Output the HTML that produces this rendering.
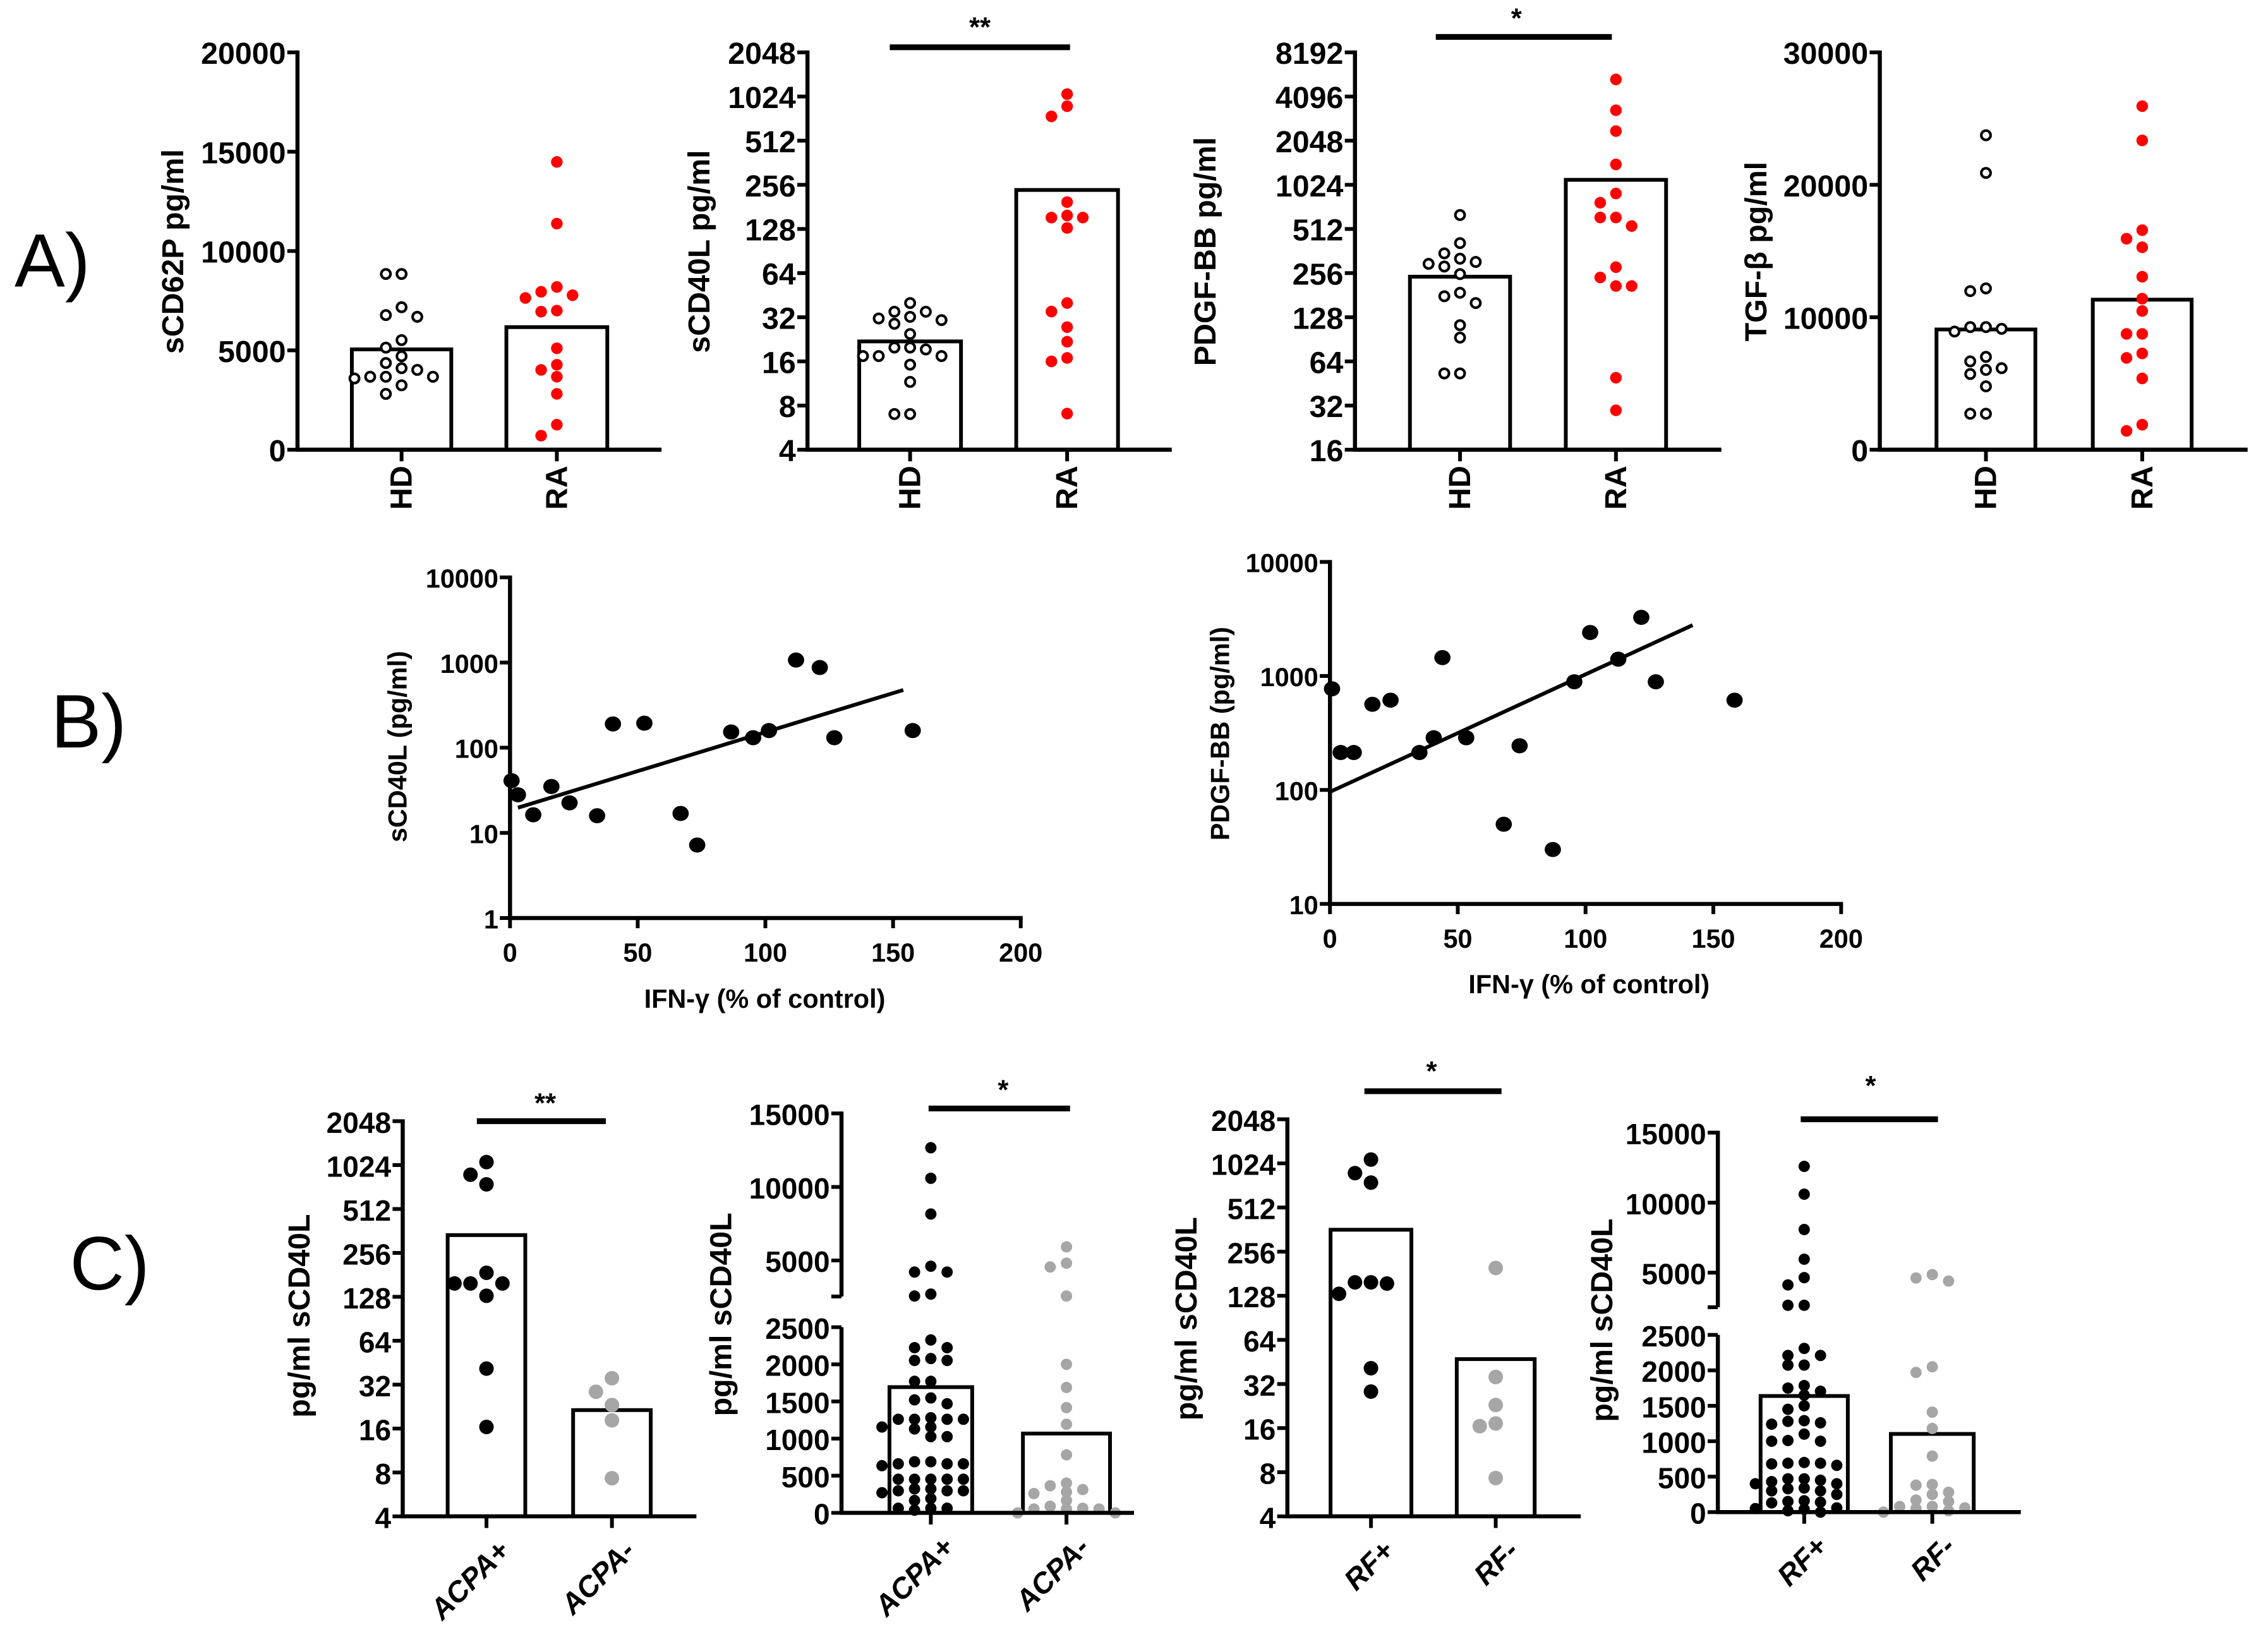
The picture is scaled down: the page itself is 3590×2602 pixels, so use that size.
<!DOCTYPE html>
<html><head><meta charset="utf-8"><style>
html,body{margin:0;padding:0;background:#fff}
svg{display:block}
text{font-family:"Liberation Sans",Arial,sans-serif}
</style></head><body>
<svg id="fig" xmlns="http://www.w3.org/2000/svg" width="3590" height="2602" viewBox="0 0 1560 1130.7">
<rect width="1560" height="1131" fill="#fff"/>
<text x="10" y="197" font-size="52">A)</text>
<text x="35" y="514" font-size="52">B)</text>
<text x="48" y="887" font-size="52">C)</text>
</svg>
<script>
// ---------- DATA ----------
const a1HD=[8845,8845,7172,6690,6776,5517,5138,4707,4362,4103,4017,3672,3672,3586,3672,3241,2810];
const a1RA=[14483,11379,8190,7948,7638,7776,7000,6948,5103,4276,4017,3672,2810,1259,707];
const a1Bars=[5050,6170];
const a2HD=[40,31.4,34.9,34.9,32.2,30.6,28.9,24.6,19.3,19.9,19.9,17.4,17.4,17.4,15.2,11.6,7.0,7.0];
const a2RA=[1063,879,749,195,158,153,153,130,40,35,27.4,21.8,16.9,16,7.05];
const a2Bars=[21.9,236];
const a3HD=[637,321,284,410,349,305,296,252,188,178,160,113,93,53,53];
const a3RA=[5352,3299,2378,1410,893,773,613,613,536,281,239,209,209,49.5,29.7];
const a3Bars=[242,1107];
const a4HD=[23740,20895,11973,12180,9258,9128,9258,8921,6672,7008,6025,6155,5715,4784,2715,2715];
const a4RA=[25937,23352,16576,15930,15283,13059,11404,10473,8741,8741,7267,6930,5379,1888,1422];
const a4Bars=[9077,11327];
const catsA=["HD","RA"];
const ticksA1=[0,5000,10000,15000,20000];
const ticksA2=[4,8,16,32,64,128,256,512,1024,2048];
const ticksA3=[16,32,64,128,256,512,1024,2048,4096,8192];
const ticksA4=[0,10000,20000,30000];

const b1X=[0.6,3.1,9.1,16.2,23.3,34.1,40.3,52.6,66.8,73.3,86.6,95.2,101.4,112,121.3,127,157.7];
const b1Y=[41,28,16.3,35,22.5,15.9,190,194,16.9,7.2,153,131,159,1070,874,131,159];
const b1Fit=[1.267,0.00916,3.1,154];
const b2X=[0.8,4.2,9.3,16.6,23.7,35,40.6,44,53.3,68,74.2,87.2,95.6,101.8,112.8,121.8,127.5,158.3];
const b2Y=[771,213,213,564,613,213,287,1449,287,50,244,30,889,2404,1403,3266,889,613];
const b2Fit=[1.983,0.01031,0,141.9];
const ticksBx=[0,50,100,150,200];
const ticksB1y=[1,10,100,1000,10000];
const ticksB2y=[10,100,1000,10000];

const c1Pos=[1073,755,879,158,187,158,158,130,41.2,16.4];
const c1Neg=[35.4,28.6,23.2,18.2,7.3];
const c1Bars=[339,21.4];
const c2Pos=[12668,10589,8158,4605,4211,4211,2711,2580,2328,2224,2224,2078,2052,2052,1771,1771,1547,1521,1469,1260,1260,1260,1280,1260,1156,1130,1156,1026,1026,688,635,660,660,660,688,453,453,453,453,453,271,323,323,297,297,297,167,193,36,62,62,62];
const c2Neg=[5921,4816,4553,2579,2000,1688,1417,1193,781,365,313,401,281,260,89,52,62,52,167,0,0,52];
const c2Bars=[1693,1068];
const c3Pos=[1088,879,757,158,158,155,132,41,28.4];
const c3Neg=[198,35.7,23,16.5,17.2,7.3];
const c3Bars=[361,47.3];
const c4Pos=[12589,10603,8082,5959,4644,4123,2671,2671,2309,2210,2210,2074,2074,1785,1705,1750,1650,1500,1450,1290,1280,1260,1240,1100,1000,1010,1000,700,680,690,690,660,470,450,430,470,400,400,340,330,300,300,250,140,150,160,130,60,50,40,20,0];
const c4Neg=[4863,4620,4400,2050,1970,1410,1180,790,390,380,250,280,150,170,80,80,60,50,20,0];
const c4Bars=[1638,1103];
const catsACPA=["ACPA+","ACPA-"];
const catsRF=["RF+","RF-"];
const ticksClog=[4,8,16,32,64,128,256,512,1024,2048];
const ticksCtop=[5000,10000,15000];
const ticksCbot=[0,500,1000,1500,2000,2500];

// ---------- HELPERS ----------
const NS="http://www.w3.org/2000/svg";
const svg=document.getElementById('fig');
function el(tag,attrs,parent,txt){const e=document.createElementNS(NS,tag);for(const k in attrs)e.setAttribute(k,attrs[k]);if(txt!==undefined)e.textContent=txt;(parent||svg).appendChild(e);return e;}
function lin(d0,d1,r0,r1){return v=>r0+(v-d0)/(d1-d0)*(r1-r0);}
function logs(base,d0,d1,r0,r1){const l=x=>Math.log(x)/Math.log(base);return v=>r0+(l(v)-l(d0))/(l(d1)-l(d0))*(r1-r0);}
function brk(y0,y2500,yBreak,y5000,y15000){const bot=lin(0,2500,y0,y2500),top=lin(5000,15000,y5000,y15000);return v=>v>=2540?top(v):bot(v);}
function fmt(v){return String(v);}
function swarm(vals,sc,cx,step,thr,maxK){const pts=vals.map(v=>({v,y:sc(v)})).sort((a,b)=>a.y-b.y);const placed=[];
 const order=[0];for(let k=1;k<=maxK;k++){order.push(-k,k);}
 pts.forEach(p=>{let best=null,bestD=-1;for(const k of order){let md=1e9;placed.forEach(q=>{if(q.k===k)md=Math.min(md,Math.abs(q.y-p.y));});
  if(md>=thr){best=k;break;}if(md>bestD){bestD=md;best=k;}}
  p.k=best;placed.push(p);p.x=cx+p.k*step;});return pts;}

function yAxis(g,ax,ticks,sc,fs,tl){ticks.forEach(t=>{const y=sc(t);
 const tk=el('line',{x1:ax-tl,x2:ax,y1:y,y2:y,stroke:'#000','stroke-width':2.6},g);
 
 const lb=el('text',{x:ax-tl-1,y:y+1,'font-size':fs,'font-weight':'bold','text-anchor':'end','dominant-baseline':'central'},g,fmt(t));
 });}

function yTitle(g,x,y,txt,fs,name){const t=el('text',{x:0,y:0,transform:`translate(${x},${y}) rotate(-90)`,'font-size':fs,'font-weight':'bold','text-anchor':'middle','dominant-baseline':'central'},g,txt);
 }

function sig(g,x1,x2,y,sx,sy,star){const l=el('line',{x1,x2,y1:y,y2:y,stroke:'#000','stroke-width':4},g);
 
 const s=el('text',{x:sx,y:sy+6,'font-size':19,'font-weight':'bold','text-anchor':'middle'},g,star);
 }

function bars(g,groups,sc,y0,sw){groups.forEach(gr=>{const yt=sc(gr.bar);
 const b=el('rect',{x:gr.l,y:yt,width:gr.r-gr.l,height:y0-yt,fill:'#fff',stroke:'#000','stroke-width':sw},g);
 });}

function dots(g,groups,sc,r,step,thr,maxK){groups.forEach(gr=>{const cx=(gr.l+gr.r)/2;swarm(gr.vals,sc,cx,step,thr,maxK).forEach(p=>{
 const c=gr.open?el('circle',{cx:p.x,cy:p.y,r:r-0.8,fill:'#fff',stroke:gr.color,'stroke-width':1.8},g):el('circle',{cx:p.x,cy:p.y,r:r,fill:gr.color},g);
 });});}

function xAxisCats(g,ax,xEnd,y0,groups,rot45,fs){const l=el('line',{x1:ax-1.3,x2:xEnd,y1:y0,y2:y0,stroke:'#000','stroke-width':2.8},g);
 
 groups.forEach(gr=>{const cx=(gr.l+gr.r)/2;const tk=el('line',{x1:cx,x2:cx,y1:y0,y2:y0+8,stroke:'#000','stroke-width':2.6},g);
 
 let t;if(rot45){t=el('text',{x:0,y:0,transform:`translate(${cx+12},${y0+20}) rotate(-45)`,'font-size':fs,'font-weight':'bold','font-style':'italic','text-anchor':'end','dominant-baseline':'central'},g,gr.name);}
 else{t=el('text',{x:0,y:0,transform:`translate(${cx},${y0+11}) rotate(-90)`,'font-size':fs,'font-weight':'bold','text-anchor':'end','dominant-baseline':'central'},g,gr.name);}
 });}

function vline(g,x,y1,y2,name){const l=el('line',{x1:x,x2:x,y1,y2,stroke:'#000','stroke-width':2.8},g);}

function barPanel(o){const g=el('g',{},svg);
 const y0=o.y0;vline(g,o.ax,o.yTop-1.3,y0,'y-axis');
 yAxis(g,o.ax,o.ticks,o.sc,o.fs,7);
 bars(g,o.groups,o.sc,y0,o.sw||2.6);
 dots(g,o.groups,o.sc,o.r,o.step,o.thr,o.maxK||3);
 xAxisCats(g,o.ax,o.xEnd,y0,o.groups,o.rot45,o.cfs||21);
 yTitle(g,o.tx,o.ty,o.title,o.tfs||21,'y-axis-title');
 if(o.sig)sig(g,...o.sig);
 return g;}

// ---------- PANEL A ----------
const sA1=lin(0,20000,309.3,36);
barPanel({name:'panel-a-scd62p',ax:204.6,yTop:36,y0:309.3,xEnd:455,sc:sA1,ticks:ticksA1,fs:21,r:4,step:10.8,thr:8,
 groups:[{name:catsA[0],l:242,r:310.4,bar:a1Bars[0],vals:a1HD,color:'#000',open:true},{name:catsA[1],l:348.3,r:417.7,bar:a1Bars[1],vals:a1RA,color:'#ff0000'}],
 tx:119,ty:173,title:'sCD62P pg/ml'});
const sA2=logs(2,4,2048,309.3,36);
barPanel({name:'panel-a-scd40l',ax:555.4,yTop:36,y0:309.3,xEnd:806,sc:sA2,ticks:ticksA2,fs:21,r:4,step:10.8,thr:8,
 groups:[{name:catsA[0],l:591,r:661,bar:a2Bars[0],vals:a2HD,color:'#000',open:true},{name:catsA[1],l:699,r:769,bar:a2Bars[1],vals:a2RA,color:'#ff0000'}],
 tx:481,ty:173,title:'sCD40L pg/ml',sig:[612,736,32.5,674,19,'**']});
const sA3=logs(2,16,8192,309.3,36);
barPanel({name:'panel-a-pdgf-bb',ax:932,yTop:36,y0:309.3,xEnd:1184,sc:sA3,ticks:ticksA3,fs:21,r:4,step:10.8,thr:8,
 groups:[{name:catsA[0],l:969.8,r:1038.7,bar:a3Bars[0],vals:a3HD,color:'#000',open:true},{name:catsA[1],l:1077,r:1146,bar:a3Bars[1],vals:a3RA,color:'#ff0000'}],
 tx:829,ty:173,title:'PDGF-BB pg/ml',sig:[987.6,1108.7,25.4,1043,13,'*']});
const sA4=lin(0,30000,309.3,36);
barPanel({name:'panel-a-tgf-beta',ax:1293,yTop:36,y0:309.3,xEnd:1546,sc:sA4,ticks:ticksA4,fs:21,r:4,step:10.8,thr:8,
 groups:[{name:catsA[0],l:1332,r:1400,bar:a4Bars[0],vals:a4HD,color:'#000',open:true},{name:catsA[1],l:1439.5,r:1507.5,bar:a4Bars[1],vals:a4RA,color:'#ff0000'}],
 tx:1208,ty:173,title:'TGF-β pg/ml'});

// ---------- PANEL B ----------
function scatter(o){const g=el('g',{},svg);
 const xs=lin(0,200,o.ax,o.xEnd);const ys=logs(10,o.yMin,o.yMax,o.y0,o.yTop);
 vline(g,o.ax,o.yTop-1.3,o.y0,'y-axis');yAxis(g,o.ax,o.yticks,ys,18,7);
 const xl=el('line',{x1:o.ax-1.3,x2:o.xEnd+1.3,y1:o.y0,y2:o.y0,stroke:'#000','stroke-width':2.8},g);
 ticksBx.forEach(t=>{const x=xs(t);const tk=el('line',{x1:x,x2:x,y1:o.y0,y2:o.y0+7,stroke:'#000','stroke-width':2.6},g);
  
  const lb=el('text',{x:x,y:o.y0+24,'font-size':18,'font-weight':'bold','text-anchor':'middle','dominant-baseline':'central'},g,String(t));
  });
 o.xv.forEach((v,i)=>{const c=el('ellipse',{cx:xs(v),cy:ys(o.yv[i]),rx:5.6,ry:5.2,fill:'#000'},g);});
 const f=o.fit;const fl=el('line',{x1:xs(f[2]),y1:ys(Math.pow(10,f[0]+f[1]*f[2])),x2:xs(f[3]),y2:ys(Math.pow(10,f[0]+f[1]*f[3])),stroke:'#000','stroke-width':2.6},g);
 
 const xt=el('text',{x:o.xtx,y:o.xty,'font-size':18,'font-weight':'bold','text-anchor':'middle','dominant-baseline':'central'},g,'IFN-γ (% of control)');
 
 yTitle(g,o.tx,o.ty,o.title,18,'y-axis-title');}
scatter({name:'panel-b-scd40l-vs-ifng',ax:350.8,xEnd:702.1,y0:631.4,yTop:397.1,yMin:1,yMax:10000,yticks:ticksB1y,xv:b1X,yv:b1Y,fit:b1Fit,xtx:526,xty:687,tx:273.5,ty:513.5,title:'sCD40L (pg/ml)'});
scatter({name:'panel-b-pdgf-vs-ifng',ax:914.8,xEnd:1266.4,y0:621.7,yTop:386.5,yMin:10,yMax:10000,yticks:ticksB2y,xv:b2X,yv:b2Y,fit:b2Fit,xtx:1093,xty:677,tx:839.3,ty:504.6,title:'PDGF-BB (pg/ml)'});

// ---------- PANEL C ----------
function cLog(o){const sc=logs(2,4,2048,o.y0,o.yTop);return barPanel(Object.assign({sc,ticks:ticksClog,fs:20,r:5,step:11,thr:10,rot45:true,tfs:21,cfs:20,yTop:o.yTop},o));}
cLog({name:'panel-c-acpa-log',ax:277,yTop:771.1,y0:1042.9,xEnd:479,
 groups:[{name:catsACPA[0],l:307.9,r:361.3,bar:c1Bars[0],vals:c1Pos,color:'#000'},{name:catsACPA[1],l:394.2,r:447.6,bar:c1Bars[1],vals:c1Neg,color:'#a6a6a6'}],
 tx:206,ty:905,title:'pg/ml sCD40L',sig:[328,416.7,771.1,375,759,'**']});
cLog({name:'panel-c-rf-log',ax:885.5,yTop:769.8,y0:1042.9,xEnd:1087.3,
 groups:[{name:catsRF[0],l:915.2,r:970.8,bar:c3Bars[0],vals:c3Pos,color:'#000'},{name:catsRF[1],l:1002,r:1055.6,bar:c3Bars[1],vals:c3Neg,color:'#a6a6a6'}],
 tx:816,ty:907,title:'pg/ml sCD40L',sig:[938.5,1032.8,750.5,984.7,737,'*']});

function cBreak(o){const g=el('g',{},svg);
 const sc=brk(o.y0,o.y2500,o.yBreak,o.y5000,o.y15000);const top=lin(5000,15000,o.y5000,o.y15000);const bot=lin(0,2500,o.y0,o.y2500);
 vline(g,o.ax,o.y15000-1.3,o.yBreak,'y-axis-upper');vline(g,o.ax,o.y2500,o.y0,'y-axis-lower');
 const bt=el('line',{x1:o.ax-7,x2:o.ax,y1:o.yBreak,y2:o.yBreak,stroke:'#000','stroke-width':2.6},g);
 yAxis(g,o.ax,ticksCtop,top,20,7);yAxis(g,o.ax,ticksCbot,bot,20,7);
 bars(g,o.groups,sc,o.y0,2.6);dots(g,o.groups,sc,3.9,11.2,5.5,3);
 xAxisCats(g,o.ax,o.xEnd,o.y0,o.groups,true,20);
 yTitle(g,o.tx,o.ty,o.title,21,'y-axis-title');sig(g,...o.sig);}
cBreak({name:'panel-c-acpa-linear',ax:578.8,xEnd:780,y0:1040.5,y2500:912.8,yBreak:891.7,y5000:866.9,y15000:765.8,
 groups:[{name:catsACPA[0],l:611.8,r:668.7,bar:c2Bars[0],vals:c2Pos,color:'#000'},{name:catsACPA[1],l:703.6,r:763.5,bar:c2Bars[1],vals:c2Neg,color:'#a6a6a6'}],
 tx:496,ty:904,title:'pg/ml sCD40L',sig:[638.7,736,762.4,690,750,'*']});
cBreak({name:'panel-c-rf-linear',ax:1181.6,xEnd:1390,y0:1040,y2500:918.1,yBreak:899.1,y5000:875.3,y15000:779,
 groups:[{name:catsRF[0],l:1211,r:1271,bar:c4Bars[0],vals:c4Pos,color:'#000'},{name:catsRF[1],l:1300.6,r:1357.6,bar:c4Bars[1],vals:c4Neg,color:'#a6a6a6'}],
 tx:1102,ty:908,title:'pg/ml sCD40L',sig:[1238.6,1333,769.8,1286.7,747,'*']});
</script>
</body></html>
